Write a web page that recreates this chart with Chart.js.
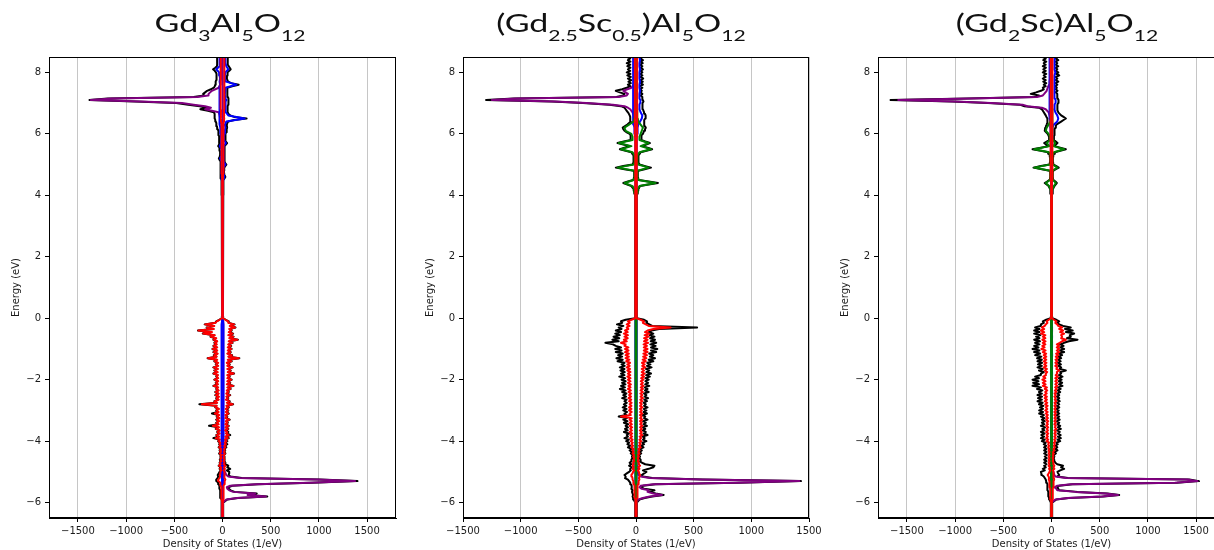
<!DOCTYPE html>
<html><head><meta charset="utf-8">
<script src="https://cdn.jsdelivr.net/npm/chart.js@4.4.1/dist/chart.umd.min.js"></script>
<style>
html,body{margin:0;padding:0;background:#fff;overflow:hidden;width:1214px;height:550px;}
canvas.panel{position:absolute;top:0;}
.title{position:absolute;top:10px;font-family:Lato,"Open Sans",sans-serif;font-size:25px;color:#111;white-space:nowrap;line-height:1;transform-origin:50% 0;transform:translateX(-50%) scaleX(1.36);}
.title sub{font-size:0.62em;vertical-align:-9px;line-height:0;}
</style></head><body>
<canvas id="c1" class="panel" width="400" height="550" style="left:0px"></canvas>
<canvas id="c2" class="panel" width="418" height="550" style="left:414px"></canvas>
<canvas id="c3" class="panel" width="402" height="550" style="left:829px"></canvas>
<div class="title" style="left:230px">Gd<sub>3</sub>Al<sub>5</sub>O<sub>12</sub></div>
<div class="title" style="left:621px">(Gd<sub>2.5</sub>Sc<sub>0.5</sub>)Al<sub>5</sub>O<sub>12</sub></div>
<div class="title" style="left:1057px">(Gd<sub>2</sub>Sc)Al<sub>5</sub>O<sub>12</sub></div>
<script>
// Coarse energy grid (eV) for the Gd / Al / Sc projections
const energy = [
 -6.6, -6.2, -6.0,
 -5.9, -5.85, -5.8, -5.75, -5.7, -5.65, -5.6, -5.55, -5.5, -5.45, -5.4, -5.35, -5.3, -5.25, -5.2, -5.15, -5.1,
 -5.0, -4.9, -4.8, -4.7, -4.6, -4.5, -4.4, -4.3, -4.2, -4.1,
 -4.0, -3.9, -3.8, -3.7, -3.6, -3.5, -3.4, -3.3, -3.2, -3.1,
 -3.0, -2.9, -2.8, -2.7, -2.6, -2.5, -2.4, -2.3, -2.2, -2.1,
 -2.0, -1.9, -1.8, -1.7, -1.6, -1.5, -1.4, -1.3, -1.2, -1.1,
 -1.0, -0.9, -0.8, -0.7, -0.6, -0.5, -0.4, -0.3, -0.2, -0.1,
 0.0, 0.1,
 4.0, 4.1, 4.2, 4.3, 4.4, 4.5, 4.6, 4.7, 4.8, 4.9,
 5.0, 5.1, 5.2, 5.3, 5.4, 5.5, 5.6, 5.7, 5.8, 5.9,
 6.0, 6.1, 6.2, 6.3, 6.4, 6.5, 6.6, 6.7, 6.8,
 6.85, 6.9, 6.95, 7.0, 7.05, 7.1, 7.15, 7.2, 7.25,
 7.3, 7.4, 7.5, 7.6, 7.7, 7.8, 7.9, 8.0, 8.1, 8.2, 8.3, 8.4, 8.5, 8.6
];
// Fine energy grid (eV) for the total DOS and the O projection
const energyFine = [
 -6.6, -6.2, -6.0,
 -5.9, -5.85, -5.8, -5.75, -5.7, -5.65, -5.6, -5.55, -5.5, -5.45, -5.4, -5.35, -5.3, -5.25, -5.2, -5.15, -5.1, -5.05,
 -5.0, -4.95, -4.9, -4.85, -4.8, -4.75, -4.7, -4.65, -4.6, -4.55,
 -4.5, -4.45, -4.4, -4.35, -4.3, -4.25, -4.2, -4.15, -4.1, -4.05,
 -4.0, -3.95, -3.9, -3.85, -3.8, -3.75, -3.7, -3.65, -3.6, -3.55,
 -3.5, -3.45, -3.4, -3.35, -3.3, -3.25, -3.2, -3.15, -3.1, -3.05,
 -3.0, -2.95, -2.9, -2.85, -2.8, -2.75, -2.7, -2.65, -2.6, -2.55,
 -2.5, -2.45, -2.4, -2.35, -2.3, -2.25, -2.2, -2.15, -2.1, -2.05,
 -2.0, -1.95, -1.9, -1.85, -1.8, -1.75, -1.7, -1.65, -1.6, -1.55,
 -1.5, -1.45, -1.4, -1.35, -1.3, -1.25, -1.2, -1.15, -1.1, -1.05,
 -1.0, -0.95, -0.9, -0.85, -0.8, -0.75, -0.7, -0.65, -0.6, -0.55,
 -0.5, -0.45, -0.4, -0.35, -0.3, -0.25, -0.2, -0.15, -0.1, -0.05,
 0.0, 0.1,
 4.0, 4.05, 4.1, 4.15, 4.2, 4.25, 4.3, 4.35, 4.4, 4.45,
 4.5, 4.55, 4.6, 4.65, 4.7, 4.75, 4.8, 4.85, 4.9, 4.95,
 5.0, 5.05, 5.1, 5.15, 5.2, 5.25, 5.3, 5.35, 5.4, 5.45,
 5.5, 5.55, 5.6, 5.65, 5.7, 5.75, 5.8, 5.85, 5.9, 5.95,
 6.0, 6.05, 6.1, 6.15, 6.2, 6.25, 6.3, 6.35, 6.4, 6.45,
 6.5, 6.55, 6.6, 6.65, 6.7, 6.75, 6.8, 6.85, 6.9, 6.95,
 7.0, 7.05, 7.1, 7.15, 7.2, 7.25, 7.3, 7.35, 7.4, 7.45,
 7.5, 7.55, 7.6, 7.65, 7.7, 7.75, 7.8, 7.85, 7.9, 7.95,
 8.0, 8.05, 8.1, 8.15, 8.2, 8.25, 8.3, 8.35, 8.4, 8.45,
 8.5, 8.55, 8.6
];
const xTicks = [-1500, -1000, -500, 0, 500, 1000, 1500];
const yTicks = [-6, -4, -2, 0, 2, 4, 6, 8];

// ================= Panel 1: Gd3Al5O12 =================
const p1TotUp = [
 6, 6, 8,
 50, 160, 465, 275, 355, 125, 85, 65, 60, 100, 370, 930, 1400, 1010, 200, 80, 65, 68,
 70, 45, 80, 50, 60, 30, 30, 18, 25, 16,
 22, 14, 30, 18, 28, 20, 40, 25, 50, 30,
 50, 30, 65, 38, 80, 42, 60, 35, 60, 38,
 65, 38, 55, 42, 75, 38, 50, 36, 65, 42,
 60, 42, 65, 48, 110, 52, 75, 42, 60, 45,
 80, 48, 65, 52, 85, 56, 115, 52, 80, 56,
 95, 56, 75, 56, 120, 62, 85, 56, 105, 56,
 75, 52, 95, 62, 175, 66, 100, 56, 85, 62,
 95, 62, 90, 66, 105, 72, 160, 76, 115, 66,
 110, 72, 95, 76, 135, 82, 125, 66, 65, 34,
 8, 5,
 8, 7, 8, 7, 8, 8, 10, 9, 12, 11,
 15, 20, 30, 22, 18, 15, 17, 16, 20, 28,
 40, 28, 22, 20, 21, 20, 22, 20, 22, 21,
 22, 22, 25, 35, 48, 35, 30, 28, 30, 32,
 35, 38, 42, 45, 48, 46, 45, 50, 60, 120,
 250, 120, 80, 60, 55, 52, 52, 52, 55, 60,
 58, 65, 65, 58, 55, 50, 48, 50, 50, 51,
 52, 100, 168, 90, 58, 50, 45, 46, 48, 50,
 55, 70, 85, 75, 65, 55, 52, 53, 55, 55,
 55, 55, 55
];
const p1TotDn = [
 -6, -6, -8,
 -15, -18, -22, -22, -25, -25, -25, -30, -30, -35, -40, -45, -62, -65, -50, -45, -50, -40,
 -30, -18, -30, -20, -40, -22, -30, -18, -28, -16,
 -25, -16, -35, -20, -30, -20, -40, -24, -35, -28,
 -45, -32, -95, -40, -65, -35, -55, -35, -70, -42,
 -140, -45, -65, -40, -65, -36, -60, -40, -110, -46,
 -65, -42, -75, -64, -240, -60, -85, -44, -65, -42,
 -75, -44, -75, -44, -65, -50, -95, -52, -70, -50,
 -85, -50, -65, -52, -95, -55, -85, -52, -95, -50,
 -70, -50, -85, -60, -155, -65, -90, -55, -95, -60,
 -105, -60, -95, -65, -85, -60, -95, -70, -125, -85,
 -205, -115, -255, -95, -165, -90, -185, -75, -65, -34,
 -8, -5,
 -8, -8, -8, -8, -8, -9, -10, -11, -12, -13,
 -15, -17, -20, -19, -18, -17, -17, -18, -20, -21,
 -22, -23, -25, -30, -38, -30, -25, -25, -25, -26,
 -28, -35, -45, -38, -30, -32, -35, -36, -36, -38,
 -40, -42, -45, -50, -55, -58, -62, -66, -70, -75,
 -80, -80, -80, -85, -90, -150, -230, -170, -235, -355,
 -480, -910, -1380, -1190, -300, -190, -200, -180, -160, -120,
 -90, -80, -75, -72, -70, -65, -60, -61, -62, -65,
 -68, -80, -98, -75, -58, -56, -55, -55, -56, -56,
 -56, -56, -56
];
const p1OUp = [
 3, 3, 4,
 6, 8, 10, 8, 10, 12, 10, 12, 15, 14, 18, 20, 25, 30, 20, 18, 22, 20,
 20, 12, 25, 15, 30, 14, 22, 12, 20, 11,
 18, 10, 25, 14, 22, 15, 30, 18, 35, 22,
 40, 25, 55, 30, 65, 35, 50, 28, 55, 32,
 60, 30, 50, 35, 70, 30, 45, 30, 60, 35,
 55, 35, 60, 40, 105, 45, 70, 35, 55, 40,
 75, 40, 60, 45, 80, 50, 110, 45, 75, 50,
 90, 50, 70, 50, 115, 55, 80, 50, 100, 50,
 70, 45, 90, 55, 170, 60, 95, 50, 80, 55,
 90, 55, 85, 60, 100, 65, 155, 70, 110, 60,
 105, 65, 90, 70, 130, 75, 120, 60, 60, 30,
 5, 3,
 3, 3, 3, 3, 3, 3, 4, 4, 4, 4,
 5, 5, 6, 5, 6, 6, 7, 6, 8, 7,
 8, 7, 8, 8, 9, 8, 9, 9, 10, 9,
 10, 9, 10, 10, 11, 10, 12, 11, 12, 11,
 12, 11, 13, 12, 14, 13, 15, 14, 16, 15,
 18, 15, 18, 16, 16, 15, 18, 18, 20, 20,
 22, 25, 20, 22, 20, 18, 18, 17, 16, 17,
 18, 19, 20, 19, 18, 17, 16, 17, 18, 19,
 20, 21, 22, 21, 20, 19, 18, 19, 20, 20,
 20, 20, 20
];
const p1ODn = [
 -3, -3, -4,
 -6, -8, -10, -10, -12, -12, -12, -14, -15, -18, -20, -25, -40, -45, -30, -25, -28, -22,
 -22, -14, -25, -16, -35, -18, -25, -14, -22, -12,
 -20, -12, -28, -15, -25, -16, -35, -18, -30, -22,
 -40, -28, -70, -35, -60, -30, -50, -30, -65, -38,
 -100, -40, -60, -35, -60, -32, -55, -35, -80, -40,
 -60, -38, -70, -60, -215, -55, -80, -40, -60, -38,
 -70, -40, -70, -40, -60, -45, -90, -48, -65, -45,
 -80, -45, -60, -48, -90, -50, -80, -48, -90, -45,
 -65, -45, -80, -55, -150, -60, -85, -50, -90, -55,
 -100, -55, -90, -60, -80, -55, -90, -65, -120, -80,
 -200, -110, -250, -90, -160, -85, -180, -70, -60, -30,
 -5, -3,
 -3, -3, -3, -3, -3, -3, -4, -4, -4, -4,
 -5, -5, -6, -5, -6, -6, -7, -6, -8, -7,
 -8, -7, -8, -8, -9, -8, -9, -9, -10, -9,
 -10, -9, -10, -10, -11, -10, -12, -11, -12, -11,
 -12, -11, -13, -12, -14, -13, -15, -14, -16, -15,
 -18, -15, -18, -16, -16, -15, -18, -18, -20, -20,
 -22, -25, -20, -22, -20, -18, -18, -17, -16, -17,
 -18, -19, -20, -19, -18, -17, -16, -17, -18, -19,
 -20, -21, -22, -21, -20, -19, -18, -19, -20, -20,
 -20, -20, -20
];
const p1GdUp = [
 2, 2, 3,
 40, 150, 450, 260, 340, 110, 70, 50, 45, 80, 350, 900, 1375, 980, 180, 60, 40,
 25, 15, 12, 10, 8, 8, 9, 8, 8, 9,
 8, 9, 8, 8, 9, 8, 8, 9, 8, 8,
 8, 8, 9, 8, 8, 9, 8, 8, 8, 9,
 8, 8, 9, 8, 8, 8, 9, 8, 8, 8,
 8, 9, 8, 8, 8, 9, 8, 8, 7, 6,
 3, 2,
 2, 2, 2, 2, 2, 2, 2, 2, 2, 2,
 2, 2, 2, 2, 2, 2, 2, 2, 2, 2,
 3, 3, 3, 3, 3, 3, 3, 3, 3,
 3, 3, 3, 3, 3, 3, 3, 3, 3,
 3, 3, 3, 3, 3, 3, 3, 3, 3, 3, 3, 3, 3, 3
];
const p1GdDn = [
 -2, -2, -2,
 -3, -3, -3, -3, -3, -3, -3, -3, -3, -3, -4, -4, -5, -5, -4, -3, -3,
 -4, -4, -4, -4, -4, -4, -4, -4, -4, -4,
 -4, -4, -4, -4, -4, -4, -4, -4, -4, -4,
 -4, -4, -4, -4, -4, -4, -4, -4, -4, -4,
 -4, -4, -4, -4, -4, -4, -4, -4, -4, -4,
 -4, -4, -4, -4, -4, -4, -4, -4, -3, -3,
 -2, -2,
 -2, -2, -2, -2, -2, -2, -2, -2, -2, -2,
 -2, -2, -2, -3, -3, -3, -4, -4, -5, -6,
 -8, -10, -12, -15, -20, -25, -30, -40, -180,
 -120, -180, -300, -420, -850, -1367, -1150, -260, -150,
 -145, -110, -40, -25, -20, -15, -12, -10, -8, -6, -5, -4, -4, -4
];
const p1AlUp = [
 2, 2, 3,
 5, 5, 5, 5, 5, 5, 5, 5, 5, 5, 5, 6, 6, 6, 5, 5, 5,
 6, 6, 7, 7, 8, 8, 8, 9, 9, 10,
 10, 11, 10, 10, 11, 10, 10, 11, 10, 10,
 11, 10, 10, 11, 10, 10, 11, 10, 10, 11,
 10, 10, 11, 10, 10, 11, 10, 10, 11, 10,
 10, 11, 10, 10, 11, 10, 10, 10, 8, 5,
 2, 2,
 2, 2, 2, 3, 4, 8, 20, 10, 8, 10,
 30, 12, 10, 10, 10, 10, 12, 35, 15, 15,
 20, 25, 30, 25, 40, 230, 60, 35, 30,
 30, 30, 35, 30, 35, 40, 30, 30, 25,
 25, 30, 30, 145, 35, 25, 25, 30, 60, 40, 30, 30, 30, 30
];
const p1AlDn = [
 -2, -2, -3,
 -5, -5, -5, -5, -5, -5, -5, -5, -5, -5, -5, -6, -6, -6, -5, -5, -5,
 -6, -6, -7, -7, -8, -8, -8, -9, -9, -10,
 -10, -11, -10, -10, -11, -10, -10, -11, -10, -10,
 -11, -10, -10, -11, -10, -10, -11, -10, -10, -11,
 -10, -10, -11, -10, -10, -11, -10, -10, -11, -10,
 -10, -11, -10, -10, -11, -10, -10, -10, -8, -5,
 -2, -2,
 -2, -2, -2, -3, -4, -6, -10, -8, -8, -10,
 -10, -12, -25, -10, -10, -12, -28, -12, -15, -15,
 -18, -20, -25, -30, -30, -35, -30, -30, -30,
 -30, -30, -30, -35, -30, -35, -30, -30, -30,
 -30, -30, -30, -25, -30, -25, -30, -35, -65, -30, -30, -30, -30, -30
];

// ================= Panel 2: (Gd2.5Sc0.5)Al5O12 =================
const p2TotUp = [
 6, 6, 8,
 30, 75, 140, 240, 170, 120, 160, 70, 50, 60, 170, 890, 1430, 580, 140, 60, 50, 70,
 90, 60, 110, 150, 160, 80, 50, 35, 40, 28,
 35, 25, 45, 32, 50, 36, 65, 45, 70, 55,
 90, 60, 75, 58, 100, 65, 85, 60, 80, 62,
 95, 65, 85, 62, 100, 70, 80, 60, 95, 66,
 90, 68, 100, 70, 85, 66, 95, 72, 105, 74,
 90, 70, 110, 78, 100, 76, 115, 80, 105, 82,
 110, 82, 120, 88, 130, 90, 115, 86, 135, 95,
 125, 98, 150, 110, 165, 120, 150, 115, 175, 130,
 185, 130, 170, 125, 175, 128, 165, 122, 160, 118,
 150, 112, 135, 200, 530, 140, 115, 90, 95, 70,
 8, 5,
 5, 10, 15, 18, 20, 28, 35, 110, 190, 110,
 25, 20, 15, 15, 15, 17, 20, 75, 130, 80,
 30, 25, 20, 20, 20, 22, 25, 32, 40, 90,
 140, 100, 55, 88, 120, 80, 45, 45, 45, 52,
 60, 65, 70, 78, 85, 78, 70, 70, 70, 75,
 80, 82, 85, 78, 70, 65, 60, 55, 55, 55,
 60, 65, 60, 55, 55, 40, 55, 38, 50, 36,
 55, 35, 60, 40, 58, 38, 62, 36, 55, 40,
 55, 38, 60, 40, 55, 35, 58, 40, 60, 38,
 55, 40, 55
];
const p2TotDn = [
 -6, -6, -8,
 -20, -25, -30, -25, -30, -35, -30, -40, -35, -40, -45, -50, -60, -70, -95, -90, -100, -80,
 -60, -45, -50, -38, -60, -42, -55, -38, -40, -30,
 -35, -28, -45, -34, -55, -40, -70, -50, -75, -60,
 -85, -62, -100, -70, -80, -62, -105, -72, -95, -70,
 -90, -68, -105, -74, -110, -80, -150, -85, -100, -78,
 -110, -82, -115, -84, -105, -80, -100, -82, -120, -86,
 -110, -84, -120, -90, -140, -96, -130, -92, -120, -90,
 -125, -94, -145, -100, -130, -98, -135, -100, -140, -98,
 -125, -100, -160, -115, -170, -120, -155, -115, -175, -125,
 -180, -130, -175, -200, -265, -150, -205, -145, -195, -140,
 -180, -130, -175, -125, -150, -110, -165, -120, -130, -90,
 -8, -5,
 -5, -10, -15, -18, -20, -30, -40, -75, -110, -70,
 -25, -20, -15, -15, -15, -17, -20, -100, -175, -110,
 -30, -25, -20, -20, -20, -22, -25, -32, -40, -90,
 -140, -100, -55, -110, -160, -105, -45, -45, -45, -50,
 -55, -80, -100, -110, -115, -95, -75, -60, -45, -48,
 -50, -52, -55, -62, -70, -80, -90, -100, -130, -230,
 -460, -730, -1300, -1060, -170, -110, -100, -140, -175, -120,
 -80, -50, -70, -45, -65, -42, -70, -45, -75, -48,
 -80, -50, -70, -48, -75, -50, -80, -48, -70, -50,
 -75, -60, -75
];
const p2OUp = [
 3, 3, 4,
 8, 10, 12, 10, 12, 12, 14, 14, 15, 15, 18, 20, 25, 30, 25, 30, 35, 28,
 25, 16, 30, 20, 35, 22, 25, 16, 22, 15,
 25, 17, 30, 20, 30, 21, 40, 26, 40, 28,
 45, 30, 45, 32, 55, 36, 50, 34, 50, 35,
 55, 36, 50, 35, 55, 36, 50, 34, 55, 36,
 50, 35, 55, 36, 50, 35, 55, 38, 60, 40,
 55, 38, 60, 40, 60, 42, 65, 43, 60, 42,
 65, 45, 70, 48, 75, 50, 70, 50, 80, 54,
 75, 52, 85, 58, 90, 62, 95, 64, 100, 68,
 100, 68, 95, 66, 105, 70, 100, 70, 110, 75,
 115, 78, 100, 150, 300, 110, 85, 60, 70, 40,
 5, 3,
 3, 3, 3, 3, 4, 4, 5, 5, 6, 6,
 6, 6, 6, 6, 6, 6, 6, 6, 6, 7,
 7, 7, 7, 7, 8, 8, 8, 8, 8, 8,
 8, 8, 8, 8, 8, 8, 8, 8, 9, 9,
 9, 9, 9, 9, 10, 10, 10, 10, 10, 10,
 10, 10, 10, 10, 10, 10, 10, 10, 10, 10,
 12, 12, 12, 12, 12, 10, 10, 10, 10, 10,
 10, 10, 10, 10, 10, 10, 10, 10, 10, 10,
 10, 10, 10, 10, 10, 10, 10, 10, 10, 10,
 10, 10, 10
];
const p2ODn = [
 -3, -3, -4,
 -8, -10, -12, -10, -12, -12, -14, -14, -15, -15, -18, -20, -25, -30, -30, -35, -40, -30,
 -25, -16, -30, -20, -30, -20, -25, -16, -22, -15,
 -25, -17, -30, -20, -30, -21, -40, -26, -40, -28,
 -45, -30, -50, -34, -50, -34, -55, -36, -50, -34,
 -55, -36, -55, -38, -55, -37, -130, -45, -55, -38,
 -60, -40, -60, -40, -55, -38, -60, -42, -65, -44,
 -60, -42, -65, -45, -70, -48, -65, -45, -70, -48,
 -70, -48, -75, -50, -70, -48, -75, -52, -80, -55,
 -75, -52, -85, -58, -90, -62, -90, -62, -95, -65,
 -95, -66, -100, -90, -130, -80, -105, -72, -100, -70,
 -105, -72, -95, -66, -80, -56, -80, -55, -70, -40,
 -5, -3,
 -3, -3, -3, -3, -4, -4, -5, -5, -6, -6,
 -6, -6, -6, -6, -6, -6, -6, -6, -6, -7,
 -7, -7, -7, -7, -8, -8, -8, -8, -8, -8,
 -8, -8, -8, -8, -8, -8, -8, -8, -9, -9,
 -9, -9, -9, -9, -10, -10, -10, -10, -10, -10,
 -10, -10, -10, -10, -10, -10, -10, -10, -10, -10,
 -12, -12, -12, -12, -12, -10, -10, -10, -10, -10,
 -10, -10, -10, -10, -10, -10, -10, -10, -10, -10,
 -10, -10, -10, -10, -10, -10, -10, -10, -10, -10,
 -10, -10, -10
];
const p2GdUp = [
 2, 2, 3,
 20, 60, 120, 225, 150, 100, 110, 50, 30, 40, 150, 870, 1416, 560, 120, 40, 20,
 15, 10, 8, 6, 5, 5, 5, 6, 5, 5,
 5, 6, 5, 5, 5, 6, 5, 5, 5, 6,
 5, 5, 6, 5, 5, 5, 6, 5, 5, 5,
 6, 5, 5, 5, 6, 5, 5, 5, 6, 5,
 5, 5, 6, 5, 5, 5, 6, 5, 5, 4,
 2, 2,
 2, 2, 2, 2, 2, 2, 2, 2, 2, 2,
 2, 2, 2, 2, 2, 2, 2, 2, 2, 2,
 3, 3, 3, 3, 3, 3, 3, 3, 3,
 3, 3, 3, 3, 3, 3, 3, 3, 3,
 3, 3, 3, 3, 3, 3, 3, 3, 3, 3, 3, 3, 3, 3
];
const p2GdDn = [
 -2, -2, -2,
 -3, -3, -3, -3, -3, -3, -3, -3, -3, -3, -3, -3, -4, -4, -3, -3, -3,
 -3, -3, -3, -3, -3, -3, -3, -3, -3, -3,
 -3, -3, -3, -3, -3, -3, -3, -3, -3, -3,
 -3, -3, -3, -3, -3, -3, -3, -3, -3, -3,
 -3, -3, -3, -3, -3, -3, -3, -3, -3, -3,
 -3, -3, -3, -3, -3, -3, -3, -3, -3, -3,
 -2, -2,
 -2, -2, -2, -2, -2, -2, -2, -2, -2, -2,
 -2, -2, -2, -3, -3, -3, -3, -4, -4, -5,
 -5, -5, -6, -8, -10, -15, -20, -30, -50,
 -70, -100, -200, -430, -700, -1250, -1040, -150, -80,
 -70, -110, -40, -20, -15, -12, -10, -8, -6, -5, -5, -4, -4, -4
];
const p2AlUp = [
 2, 2, 3,
 4, 5, 5, 4, 5, 5, 4, 5, 5, 4, 5, 5, 6, 5, 5, 4, 5,
 5, 5, 6, 5, 5, 6, 5, 5, 6, 5,
 5, 6, 5, 5, 6, 5, 5, 6, 5, 5,
 6, 5, 5, 6, 5, 5, 6, 5, 5, 6,
 5, 5, 6, 5, 5, 6, 5, 5, 6, 5,
 5, 6, 5, 5, 6, 5, 5, 6, 4, 3,
 2, 2,
 1, 2, 2, 2, 2, 3, 3, 3, 3, 4,
 4, 4, 5, 5, 5, 5, 6, 6, 7, 8,
 10, 12, 15, 20, 35, 50, 55, 40, 30,
 30, 30, 30, 35, 40, 35, 30, 30, 30,
 30, 35, 30, 30, 35, 30, 30, 30, 35, 30, 30, 35, 30, 30
];
const p2AlDn = [
 -2, -2, -3,
 -4, -5, -5, -4, -5, -5, -4, -5, -5, -4, -5, -5, -6, -5, -5, -4, -5,
 -5, -5, -6, -5, -5, -6, -5, -5, -6, -5,
 -5, -6, -5, -5, -6, -5, -5, -6, -5, -5,
 -6, -5, -5, -6, -5, -5, -6, -5, -5, -6,
 -5, -5, -6, -5, -5, -6, -5, -5, -6, -5,
 -5, -6, -5, -5, -6, -5, -5, -6, -4, -3,
 -2, -2,
 -1, -2, -2, -2, -2, -3, -3, -3, -3, -4,
 -4, -4, -5, -5, -5, -5, -6, -6, -7, -8,
 -10, -12, -15, -20, -20, -25, -25, -25, -25,
 -25, -25, -25, -25, -25, -25, -25, -25, -25,
 -25, -25, -25, -25, -25, -25, -25, -25, -25, -25, -25, -25, -25, -25
];
const p2ScUp = [
 1, 1, 1,
 3, 3, 3, 3, 3, 3, 3, 3, 3, 3, 3, 3, 3, 3, 3, 3, 3,
 4, 5, 5, 4, 5, 5, 4, 5, 5, 4,
 5, 5, 4, 5, 5, 4, 5, 5, 4, 5,
 5, 4, 5, 5, 4, 5, 5, 4, 5, 5,
 4, 5, 5, 4, 5, 5, 4, 5, 5, 4,
 5, 5, 4, 5, 5, 4, 5, 5, 4, 3,
 2, 1,
 1, 10, 15, 30, 170, 20, 10, 10, 15, 110,
 20, 10, 10, 15, 30, 130, 40, 110, 30, 30,
 40, 50, 60, 40, 20, 15, 12, 10, 10,
 8, 8, 8, 8, 8, 8, 8, 8, 8,
 6, 6, 6, 6, 6, 6, 6, 6, 6, 6, 6, 6, 6, 6
];
const p2ScDn = [
 -1, -1, -1,
 -3, -3, -3, -3, -3, -3, -3, -3, -3, -3, -3, -3, -3, -3, -3, -3, -3,
 -4, -5, -5, -4, -5, -5, -4, -5, -5, -4,
 -5, -5, -4, -5, -5, -4, -5, -5, -4, -5,
 -5, -4, -5, -5, -4, -5, -5, -4, -5, -5,
 -4, -5, -5, -4, -5, -5, -4, -5, -5, -4,
 -5, -5, -4, -5, -5, -4, -5, -5, -4, -3,
 -2, -1,
 -1, -10, -15, -30, -100, -20, -10, -10, -15, -160,
 -20, -10, -10, -15, -30, -130, -40, -150, -30, -30,
 -40, -90, -100, -60, -20, -15, -12, -10, -10,
 -8, -8, -8, -8, -8, -8, -8, -8, -8,
 -6, -6, -6, -6, -6, -6, -6, -6, -6, -6, -6, -6, -6, -6
];

// ================= Panel 3: (Gd2Sc)Al5O12 =================
const p3TotUp = [
 6, 6, 8,
 50, 180, 540, 702, 580, 270, 80, 70, 60, 80, 220, 1300, 1530, 1430, 170, 60, 80, 70,
 62, 90, 131, 100, 120, 60, 40, 30, 28, 22,
 30, 24, 45, 32, 62, 40, 60, 42, 65, 50,
 90, 62, 97, 66, 95, 64, 85, 60, 97, 66,
 90, 62, 80, 58, 85, 60, 80, 56, 80, 58,
 75, 55, 80, 58, 80, 58, 85, 60, 80, 58,
 80, 60, 90, 64, 95, 70, 114, 78, 110, 76,
 105, 75, 114, 78, 100, 90, 149, 85, 100, 70,
 97, 68, 95, 70, 100, 72, 110, 80, 131, 90,
 131, 92, 125, 90, 130, 180, 270, 160, 200, 190,
 235, 150, 220, 140, 200, 120, 80, 60, 80, 50,
 8, 5,
 5, 8, 10, 12, 15, 22, 30, 42, 55, 40,
 20, 16, 12, 12, 12, 15, 20, 45, 75, 50,
 22, 18, 14, 14, 14, 16, 18, 26, 35, 90,
 149, 90, 30, 45, 62, 45, 25, 25, 25, 28,
 30, 30, 30, 35, 40, 45, 50, 75, 100, 125,
 149, 125, 100, 85, 70, 65, 60, 60, 60, 65,
 70, 75, 70, 65, 60, 60, 60, 45, 62, 45,
 55, 40, 60, 42, 70, 45, 60, 45, 80, 50,
 70, 45, 60, 42, 70, 45, 60, 42, 70, 45,
 65, 45, 60
];
const p3TotDn = [
 -6, -6, -8,
 -20, -25, -30, -30, -35, -35, -40, -40, -40, -45, -45, -50, -55, -60, -70, -80, -100, -105,
 -110, -70, -90, -60, -76, -52, -76, -52, -76, -50,
 -70, -48, -76, -52, -76, -52, -76, -54, -80, -60,
 -100, -70, -110, -76, -105, -72, -110, -74, -95, -68,
 -110, -74, -100, -70, -100, -72, -110, -80, -128, -88,
 -128, -88, -120, -84, -130, -92, -145, -100, -140, -98,
 -145, -100, -130, -95, -150, -110, -197, -130, -190, -135,
 -197, -130, -170, -110, -110, -80, -130, -90, -145, -100,
 -140, -98, -145, -100, -150, -105, -170, -118, -180, -125,
 -197, -135, -180, -125, -170, -120, -180, -125, -160, -115,
 -180, -125, -180, -125, -170, -115, -110, -80, -90, -55,
 -8, -5,
 -5, -8, -10, -12, -15, -22, -30, -50, -70, -45,
 -20, -16, -12, -12, -12, -15, -20, -100, -187, -110,
 -22, -18, -14, -14, -14, -16, -18, -26, -35, -110,
 -197, -110, -30, -55, -76, -50, -25, -25, -25, -32,
 -40, -55, -70, -68, -65, -58, -50, -45, -40, -42,
 -45, -52, -60, -70, -80, -90, -100, -130, -280, -330,
 -660, -1030, -1670, -870, -180, -130, -215, -160, -110, -80,
 -90, -60, -80, -55, -85, -60, -90, -60, -80, -55,
 -90, -60, -85, -58, -90, -60, -80, -55, -85, -60,
 -90, -60, -85
];
const p3OUp = [
 3, 3, 4,
 8, 10, 12, 12, 14, 14, 15, 15, 18, 18, 20, 22, 25, 28, 25, 22, 20, 20,
 20, 14, 30, 20, 30, 18, 20, 14, 18, 12,
 20, 14, 25, 17, 30, 20, 35, 24, 35, 25,
 40, 28, 45, 30, 45, 30, 45, 30, 50, 34,
 45, 30, 45, 30, 45, 30, 45, 30, 45, 30,
 45, 30, 45, 30, 45, 32, 50, 34, 45, 30,
 45, 32, 50, 35, 55, 38, 60, 40, 60, 40,
 60, 40, 65, 44, 60, 55, 80, 50, 60, 40,
 60, 40, 60, 42, 65, 45, 70, 48, 80, 55,
 80, 55, 80, 56, 85, 110, 150, 100, 110, 100,
 131, 90, 120, 80, 110, 70, 60, 40, 50, 25,
 5, 3,
 3, 3, 3, 3, 4, 4, 5, 5, 5, 5,
 6, 6, 6, 6, 6, 6, 6, 6, 6, 7,
 7, 7, 7, 7, 8, 8, 8, 8, 8, 8,
 8, 8, 8, 8, 8, 8, 8, 8, 9, 9,
 9, 9, 9, 9, 10, 10, 10, 10, 10, 10,
 10, 10, 10, 10, 10, 10, 10, 10, 10, 10,
 12, 12, 12, 12, 12, 10, 10, 10, 10, 10,
 10, 10, 10, 10, 10, 10, 10, 10, 10, 10,
 10, 10, 10, 10, 10, 10, 10, 10, 10, 10,
 10, 10, 10
];
const p3ODn = [
 -3, -3, -4,
 -8, -10, -12, -12, -14, -14, -15, -15, -18, -18, -20, -22, -25, -28, -25, -30, -40, -30,
 -20, -14, -25, -17, -30, -20, -30, -20, -30, -20,
 -30, -20, -30, -20, -30, -21, -35, -24, -35, -25,
 -50, -34, -55, -37, -50, -34, -55, -37, -50, -34,
 -55, -37, -50, -34, -55, -37, -55, -38, -60, -40,
 -65, -44, -60, -40, -65, -44, -70, -48, -70, -48,
 -75, -50, -65, -45, -70, -48, -90, -62, -90, -62,
 -95, -64, -85, -58, -60, -45, -70, -48, -80, -54,
 -75, -52, -80, -54, -80, -54, -80, -56, -90, -62,
 -105, -72, -95, -64, -90, -62, -95, -64, -90, -64,
 -110, -76, -110, -76, -100, -70, -60, -42, -50, -28,
 -5, -3,
 -3, -3, -3, -3, -4, -4, -5, -5, -5, -5,
 -6, -6, -6, -6, -6, -6, -6, -6, -6, -7,
 -7, -7, -7, -7, -8, -8, -8, -8, -8, -8,
 -8, -8, -8, -8, -8, -8, -8, -8, -9, -9,
 -9, -9, -9, -9, -10, -10, -10, -10, -10, -10,
 -10, -10, -10, -10, -10, -10, -10, -10, -10, -10,
 -12, -12, -12, -12, -12, -10, -10, -10, -10, -10,
 -10, -10, -10, -10, -10, -10, -10, -10, -10, -10,
 -10, -10, -10, -10, -10, -10, -10, -10, -10, -10,
 -10, -10, -10
];
const p3GdUp = [
 2, 2, 3,
 40, 170, 520, 690, 560, 250, 60, 50, 30, 60, 200, 1280, 1515, 1410, 150, 40, 30,
 20, 10, 8, 6, 5, 5, 5, 6, 5, 5,
 5, 6, 5, 5, 5, 6, 5, 5, 5, 6,
 5, 5, 6, 5, 5, 5, 6, 5, 5, 5,
 6, 5, 5, 5, 6, 5, 5, 5, 6, 5,
 5, 5, 6, 5, 5, 5, 6, 5, 5, 4,
 2, 2,
 2, 2, 2, 2, 2, 2, 2, 2, 2, 2,
 2, 2, 2, 2, 2, 2, 2, 2, 2, 2,
 3, 3, 3, 3, 3, 3, 3, 3, 3,
 3, 3, 3, 3, 3, 3, 3, 3, 3,
 3, 3, 3, 3, 3, 3, 3, 3, 3, 3, 3, 3, 3, 3
];
const p3GdDn = [
 -2, -2, -2,
 -3, -3, -3, -3, -3, -3, -3, -3, -3, -3, -3, -4, -4, -4, -3, -3, -3,
 -3, -3, -3, -3, -3, -3, -3, -3, -3, -3,
 -3, -3, -3, -3, -3, -3, -3, -3, -3, -3,
 -3, -3, -3, -3, -3, -3, -3, -3, -3, -3,
 -3, -3, -3, -3, -3, -3, -3, -3, -3, -3,
 -3, -3, -3, -3, -3, -3, -3, -3, -3, -3,
 -2, -2,
 -2, -2, -2, -2, -2, -2, -2, -2, -2, -2,
 -2, -2, -2, -3, -3, -3, -3, -4, -4, -5,
 -5, -5, -6, -8, -10, -15, -20, -30, -60,
 -100, -250, -300, -630, -1000, -1590, -840, -150, -90,
 -76, -50, -40, -25, -20, -15, -12, -10, -8, -6, -5, -4, -4, -4
];
const p3AlUp = [
 2, 2, 3,
 4, 5, 5, 4, 5, 5, 4, 5, 5, 4, 5, 5, 6, 5, 5, 4, 5,
 5, 5, 6, 5, 5, 6, 5, 5, 6, 5,
 5, 6, 5, 5, 6, 5, 5, 6, 5, 5,
 6, 5, 5, 6, 5, 5, 6, 5, 5, 6,
 5, 5, 6, 5, 5, 6, 5, 5, 6, 5,
 5, 6, 5, 5, 6, 5, 5, 6, 4, 3,
 2, 2,
 1, 2, 2, 2, 2, 3, 3, 3, 3, 4,
 4, 4, 5, 5, 5, 5, 6, 6, 7, 8,
 10, 12, 15, 25, 60, 70, 60, 40, 30,
 30, 30, 35, 40, 45, 40, 35, 30, 30,
 30, 30, 30, 35, 30, 30, 30, 40, 30, 30, 30, 35, 30, 30
];
const p3AlDn = [
 -2, -2, -3,
 -4, -5, -5, -4, -5, -5, -4, -5, -5, -4, -5, -5, -6, -5, -5, -4, -5,
 -5, -5, -6, -5, -5, -6, -5, -5, -6, -5,
 -5, -6, -5, -5, -6, -5, -5, -6, -5, -5,
 -6, -5, -5, -6, -5, -5, -6, -5, -5, -6,
 -5, -5, -6, -5, -5, -6, -5, -5, -6, -5,
 -5, -6, -5, -5, -6, -5, -5, -6, -4, -3,
 -2, -2,
 -1, -2, -2, -2, -2, -3, -3, -3, -3, -4,
 -4, -4, -5, -5, -5, -5, -6, -6, -7, -8,
 -8, -10, -12, -15, -15, -20, -20, -20, -20,
 -20, -20, -20, -20, -20, -20, -20, -20, -20,
 -20, -20, -20, -20, -20, -20, -20, -20, -20, -20, -20, -20, -20, -20
];
const p3ScUp = [
 1, 1, 1,
 3, 3, 3, 3, 3, 3, 3, 3, 3, 3, 3, 3, 3, 3, 3, 3, 3,
 4, 5, 5, 4, 5, 5, 4, 5, 5, 4,
 5, 5, 4, 5, 5, 4, 5, 5, 4, 5,
 5, 4, 5, 5, 4, 5, 5, 4, 5, 5,
 4, 5, 5, 4, 5, 5, 4, 5, 5, 4,
 5, 5, 4, 5, 5, 4, 5, 5, 4, 3,
 2, 1,
 1, 5, 10, 25, 45, 15, 8, 8, 15, 62,
 15, 8, 8, 10, 25, 131, 20, 40, 15, 15,
 10, 10, 15, 10, 8, 8, 6, 6, 6,
 5, 5, 5, 5, 5, 5, 5, 5, 5,
 4, 4, 4, 4, 4, 4, 4, 4, 4, 4, 4, 4, 4, 4
];
const p3ScDn = [
 -1, -1, -1,
 -3, -3, -3, -3, -3, -3, -3, -3, -3, -3, -3, -3, -3, -3, -3, -3, -3,
 -4, -5, -5, -4, -5, -5, -4, -5, -5, -4,
 -5, -5, -4, -5, -5, -4, -5, -5, -4, -5,
 -5, -4, -5, -5, -4, -5, -5, -4, -5, -5,
 -4, -5, -5, -4, -5, -5, -4, -5, -5, -4,
 -5, -5, -4, -5, -5, -4, -5, -5, -4, -3,
 -2, -1,
 -1, -5, -10, -25, -59, -15, -8, -8, -15, -180,
 -15, -8, -8, -10, -25, -180, -20, -50, -15, -15,
 -30, -59, -50, -30, -10, -8, -6, -6, -6,
 -5, -5, -5, -5, -5, -5, -5, -5, -5,
 -4, -4, -4, -4, -4, -4, -4, -4, -4, -4, -4, -4, -4, -4
];

// ================= drawing =================
Chart.defaults.font.family = "'DejaVu Sans', sans-serif";
Chart.defaults.font.size = 10;
Chart.defaults.color = '#1a1a1a';

const C_TOT = '#000000', C_GD = '#800080', C_AL = '#0000ff', C_SC = '#008000', C_O = '#ff0000';
const fmt = v => (v < 0 ? '\u2212' + Math.abs(v) : String(v));

function series(vals, grid, color) {
  return {
    data: grid.map((e, i) => ({x: vals[i], y: e})),
    borderColor: color, backgroundColor: color,
    borderWidth: 2, pointRadius: 0, pointHoverRadius: 0,
    showLine: true, fill: false, tension: 0, clip: 0,
    borderJoinStyle: 'round', borderCapStyle: 'round'
  };
}

const frame = {
  id: 'frame',
  afterDatasetsDraw(chart) {
    const {ctx, chartArea: a} = chart;
    ctx.save();
    ctx.strokeStyle = '#000';
    ctx.lineWidth = 1;
    ctx.strokeRect(Math.round(a.left) + 0.5, Math.round(a.top) + 0.5,
                   Math.round(a.right - a.left) - 1, Math.round(a.bottom - a.top) - 1);
    ctx.restore();
  }
};

function makeChart(id, xmin, xmax, padRight, layers) {
  // layers bottom -> top; Chart.js paints dataset 0 last, so reverse
  const ds = [];
  layers.forEach(([up, dn, grid, col]) => { ds.push(series(up, grid, col)); ds.push(series(dn, grid, col)); });
  ds.reverse();
  return new Chart(document.getElementById(id), {
    type: 'scatter',
    data: {datasets: ds},
    options: {
      responsive: false, animation: false, events: [],
      layout: {padding: {top: 57, right: padRight, bottom: 0, left: 0}},
      plugins: {legend: {display: false}, tooltip: {enabled: false}, title: {display: false}},
      scales: {
        x: {
          type: 'linear', min: xmin, max: xmax,
          afterBuildTicks: s => { s.ticks = xTicks.map(v => ({value: v})); },
          ticks: {padding: 3, callback: fmt, maxRotation: 0, autoSkip: false},
          grid: {color: '#c6c6c6', lineWidth: 1, tickColor: '#000', tickLength: 4},
          border: {display: true, color: '#000'},
          title: {display: true, text: 'Density of States (1/eV)', padding: {top: 0, bottom: 0}},
          afterFit: s => { s.height = 32; }
        },
        y: {
          type: 'linear', min: -6.5, max: 8.5,
          afterBuildTicks: s => { s.ticks = yTicks.map(v => ({value: v})); },
          ticks: {padding: 4, callback: fmt, autoSkip: false},
          grid: {drawOnChartArea: false, tickColor: '#000', tickLength: 4},
          border: {display: true, color: '#000'},
          title: {display: true, text: 'Energy (eV)', padding: {top: 10, bottom: 0}},
          afterFit: s => { s.width = 49; }
        }
      }
    },
    plugins: [frame]
  });
}

makeChart('c1', -1800, 1800, 4, [
  [p1TotUp, p1TotDn, energyFine, C_TOT],
  [p1GdUp, p1GdDn, energy, C_GD],
  [p1AlUp, p1AlDn, energy, C_AL],
  [p1OUp, p1ODn, energyFine, C_O]
]);
makeChart('c2', -1500, 1500, 23, [
  [p2TotUp, p2TotDn, energyFine, C_TOT],
  [p2GdUp, p2GdDn, energy, C_GD],
  [p2AlUp, p2AlDn, energy, C_AL],
  [p2ScUp, p2ScDn, energy, C_SC],
  [p2OUp, p2ODn, energyFine, C_O]
]);
makeChart('c3', -1800, 1800, 6, [
  [p3TotUp, p3TotDn, energyFine, C_TOT],
  [p3GdUp, p3GdDn, energy, C_GD],
  [p3AlUp, p3AlDn, energy, C_AL],
  [p3ScUp, p3ScDn, energy, C_SC],
  [p3OUp, p3ODn, energyFine, C_O]
]);
</script>
</body></html>
